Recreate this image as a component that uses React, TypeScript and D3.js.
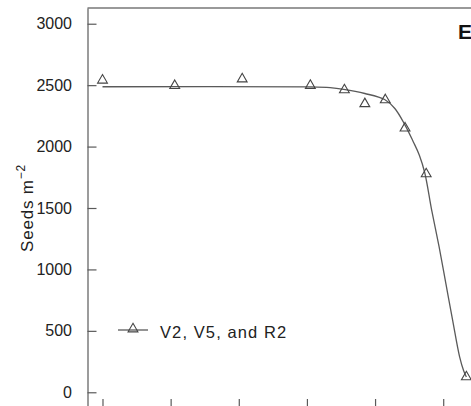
import React, { useEffect, useRef } from 'react'
import * as d3 from 'd3'

// observed seed densities
const obsX = [0, 10.6, 20.5, 30.5, 35.5, 38.5, 41.5, 44.4, 47.5, 53.4]
const obsSeeds = [2540, 2496, 2550, 2497, 2461, 2348, 2380, 2150, 1777, 125]

// fitted line
const fitX = [0, 30.4, 33.4, 35.4, 38.5, 41.4, 42.9, 44.4, 45.6, 46.5, 47.3, 48.3, 49.4, 50.4, 51.4, 52.4, 53.0, 53.4]
const fitSeeds = [2487, 2486, 2480, 2466, 2432, 2383, 2310, 2175, 2040, 1930, 1785, 1484, 1183, 882, 581, 290, 175, 125]

const xTicks = [0, 10, 20, 30, 40, 50]
const yTicks = [0, 500, 1000, 1500, 2000, 2500, 3000]
const seriesName = 'V2, V5, and R2'
const panel = 'E'

const W = 471
const H = 406
const grey = '#5a5a5a'
const font = 'Liberation Sans, Arial, sans-serif'

export default function App() {
  const ref = useRef<SVGSVGElement>(null)

  useEffect(() => {
    const svg = d3.select(ref.current)
    svg.selectAll('*').remove()

    const x = d3.scaleLinear().domain([-2.2, 57.6]).range([87.5, 495])
    const y = d3.scaleLinear().domain([-128, 3128]).range([408, 8])

    // frame
    svg.append('line')
      .attr('x1', x(-2.2)).attr('x2', W)
      .attr('y1', 8).attr('y2', 8)
      .attr('stroke', '#777').attr('stroke-width', 1.3)

    const yAxis = d3.axisLeft(y).tickValues(yTicks).tickSize(-9).tickSizeOuter(0)
      .tickPadding(15.5).tickFormat(d3.format('d'))
    const gy = svg.append('g').attr('transform', `translate(${x(-2.2)},0)`).call(yAxis)
    gy.select('.domain').attr('stroke', grey).attr('stroke-width', 1.2)
    gy.selectAll('.tick line').attr('stroke', grey).attr('stroke-width', 1.2)
    gy.selectAll('.tick text')
      .attr('font-family', font).attr('font-size', 16).attr('fill', '#222')

    const xAxis = d3.axisBottom(x).tickValues(xTicks).tickSize(-9).tickSizeOuter(0).tickFormat(() => '')
    const gx = svg.append('g').attr('transform', `translate(0,${y(-128)})`).call(xAxis)
    gx.select('.domain').attr('stroke', grey)
    gx.selectAll('.tick line').attr('stroke', grey).attr('stroke-width', 1.2)

    // fitted curve
    const fit = fitX.map((v, i) => [v, fitSeeds[i]] as [number, number])
    const line = d3.line<[number, number]>()
      .x(d => x(d[0]))
      .y(d => y(d[1]))
      .curve(d3.curveCatmullRom.alpha(0.5))
    svg.append('path')
      .attr('d', line(fit)!)
      .attr('fill', 'none')
      .attr('stroke', grey)
      .attr('stroke-width', 1.3)

    // observations
    const tri = d3.symbol().type(d3.symbolTriangle).size(42)
    svg.selectAll('.pt')
      .data(obsX.map((v, i) => [v, obsSeeds[i]]))
      .enter()
      .append('path')
      .attr('class', 'pt')
      .attr('d', tri()!)
      .attr('transform', d => `translate(${x(d[0])},${y(d[1])})`)
      .attr('fill', 'none')
      .attr('stroke', '#444')
      .attr('stroke-width', 1.1)

    // legend
    svg.append('line')
      .attr('x1', 118).attr('x2', 148).attr('y1', 330).attr('y2', 330)
      .attr('stroke', grey).attr('stroke-width', 1.3)
    svg.append('path')
      .attr('d', tri()!)
      .attr('transform', 'translate(133,329)')
      .attr('fill', 'none').attr('stroke', '#444').attr('stroke-width', 1.1)
    svg.append('text')
      .attr('x', 160).attr('y', 338)
      .attr('font-family', font).attr('font-size', 16.5)
      .attr('letter-spacing', 1.1)
      .attr('fill', '#222')
      .text(seriesName)

    // y label
    const yl = svg.append('text')
      .attr('transform', 'translate(33,252) rotate(-90)')
      .attr('font-family', font).attr('font-size', 17)
      .attr('letter-spacing', 0.8)
      .attr('fill', '#222')
    yl.append('tspan').text('Seeds m')
    yl.append('tspan').attr('dy', -8).attr('font-size', 12).text('\u22122')

    svg.append('text')
      .attr('x', 458).attr('y', 39)
      .attr('font-family', font).attr('font-size', 21).attr('font-weight', 'bold')
      .attr('fill', '#111')
      .text(panel)
  }, [])

  return (
    <>
      <style>{'body{margin:0}'}</style>
      <svg ref={ref} width={W} height={H} style={{ display: 'block', background: '#fff' }} />
    </>
  )
}
